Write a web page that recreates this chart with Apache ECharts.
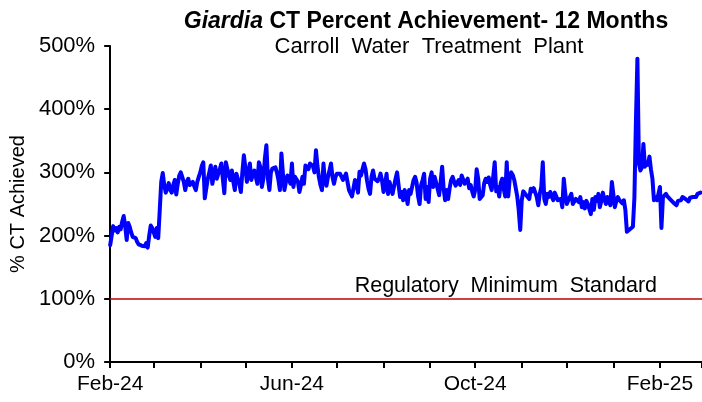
<!DOCTYPE html>
<html><head><meta charset="utf-8">
<script src="https://cdn.jsdelivr.net/npm/echarts@6/dist/echarts.min.js"></script>
<style>html,body{margin:0;padding:0;background:#fff}#c{width:702px;height:402px}</style>
</head><body><div id="c"></div>
<script>
// Daily % CT achieved, Feb 1 2024 onward
const febToApr24 = [185,200,215,208,212,205,214,210,222,231,
215,193,220,214,205,198,200,196,190,186,
188,184,186,183,188,181,200,216,212,205,
198,212,196,240,285,299,280,268,275,283,
272,268,280,288,265,282,295,300,303,285,
272,285,290,280,283,285,278,272,285,293,
300,310,316,259,275,290,300,311,282,295,
309,290,298,305,314,290,267,316];
const aprToJul24 = [316,295,288,303,285,272,298,290,282,269,
300,327,308,285,282,314,288,298,303,300,
282,316,308,277,290,322,343,290,272,300,
306,303,308,300,288,272,330,298,272,285,
295,290,282,314,277,293,292,285,269,280,
293,282,311,309,305,314,316,310,300,335,
310,292,280,272,314,285,279,293,303,314,
293,282,293,298,301,298,295,288,293,298];
const julToSep24 = [298,272,269,262,275,288,282,268,301,295,
305,314,305,287,274,266,293,303,290,288,
286,290,298,287,269,280,298,266,285,275,
266,264,290,300,280,261,269,256,272,266,
250,272,266,277,288,293,284,262,250,280,
288,298,258,277,253,290,300,277,293,293,
274,264,285,309,274,256,272,258,275,288,
293,285,279,277,288,280,295,298,282,285];
const sepToDec24 = [290,275,280,270,262,272,305,290,258,256,
264,283,290,285,292,280,272,293,316,270,
277,262,283,290,274,262,316,262,290,300,
296,288,275,262,240,209,256,270,268,264,
266,258,274,270,275,277,261,248,266,277,
316,258,250,266,261,269,262,256,268,262,
256,253,258,245,290,266,250,256,261,266,
250,250,258,261,253,261,245,253,243];
const decToFeb25 = [255,250,242,234,258,241,261,255,266,245,
255,268,258,250,261,254,248,285,265,245,
255,261,256,256,251,256,240,206,206,210,
211,214,260,380,480,314,303,308,345,309,
316,312,325,305,290,256,261,256,266,277,
212,261,261,266,262,260,257,254,252,250,
248,255,258,256,261,264,258,255,254,260,
259,261,264,261,266,267,268];
const regulatoryMinimum = 100;
const yTicks = [0,100,200,300,400,500];
const labelMonths = ['Feb-24','Jun-24','Oct-24','Feb-25'];

const values = [].concat(febToApr24, aprToJul24, julToSep24, sepToDec24, decToFeb25);
const monthNames = ['Jan','Feb','Mar','Apr','May','Jun','Jul','Aug','Sep','Oct','Nov','Dec'];
const dates = [];
const start = Date.UTC(2024,1,1), end = Date.UTC(2025,2,1);
for (let t = start; t <= end; t += 86400000) {
  const d = new Date(t);
  dates.push({key: d.toISOString().slice(0,10), first: d.getUTCDate() === 1,
    label: monthNames[d.getUTCMonth()] + '-' + String(d.getUTCFullYear()).slice(2)});
}
const cats = dates.map(d => d.key);
const F = '"Liberation Sans", Arial, sans-serif';
const chart = echarts.init(document.getElementById('c'));
chart.setOption({
  animation: false,
  title: [{
    text: '{i|Giardia} CT Percent Achievement- 12 Months',
    left: 421, top: 5, textAlign: 'center',
    textStyle: {fontFamily: F, fontSize: 23, fontWeight: 'bold', color: '#000',
      rich: {i: {fontFamily: F, fontSize: 23, fontWeight: 'bold', fontStyle: 'italic', color: '#000'}}}
  }, {
    text: 'Carroll  Water  Treatment  Plant',
    left: 424, top: 31, textAlign: 'center',
    textStyle: {fontFamily: F, fontSize: 22, fontWeight: 'normal', color: '#000'}
  }],
  grid: {left: 108, right: 0, top: 46, bottom: 40},
  xAxis: {
    type: 'category', data: cats, boundaryGap: false,
    axisLine: {lineStyle: {color: '#000', width: 2}},
    axisTick: {show: true, inside: false, length: 6, lineStyle: {color: '#000', width: 2},
      interval: (i, v) => dates[i].first},
    axisLabel: {color: '#000', fontFamily: F, fontSize: 21, margin: 12,
      interval: (i, v) => dates[i].first && labelMonths.indexOf(dates[i].label) >= 0,
      formatter: (v, i) => dates[i].label},
    splitLine: {show: false}
  },
  yAxis: {
    type: 'value', min: 0, max: 500, interval: 100,
    name: '% CT Achieved', nameLocation: 'middle', nameGap: 80, nameRotate: 90,
    nameTextStyle: {fontFamily: F, fontSize: 20, color: '#000'},
    axisLine: {show: true, lineStyle: {color: '#000', width: 2}},
    axisTick: {show: true, inside: false, length: 6, lineStyle: {color: '#000', width: 2}},
    axisLabel: {color: '#000', fontFamily: F, fontSize: 22, margin: 15,
      formatter: v => yTicks.indexOf(v) >= 0 ? v + '%' : ''},
    splitLine: {show: false}
  },
  series: [{
    type: 'line', data: values, showSymbol: false, symbol: 'none',
    lineStyle: {color: '#0000FF', width: 4, join: 'round', cap: 'round'},
    z: 3,
    markLine: {
      silent: true, symbol: 'none',
      data: [{yAxis: regulatoryMinimum}],
      lineStyle: {color: '#C00000', width: 1.5, type: 'solid'},
      label: {show: true, position: 'insideEndTop', formatter: 'Regulatory  Minimum  Standard',
        color: '#000', fontFamily: F, fontSize: 21.5, distance: [45, 2]}
    }
  }]
});
</script></body></html>
